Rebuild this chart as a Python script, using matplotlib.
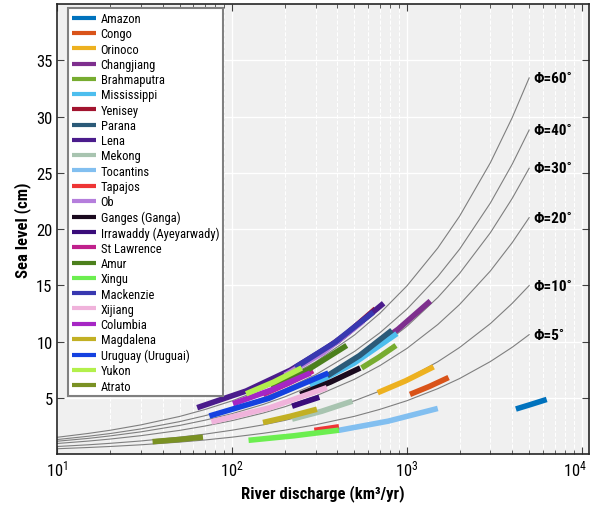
import matplotlib
matplotlib.use("Agg")
import matplotlib.pyplot as plt
from matplotlib import font_manager
from matplotlib.transforms import ScaledTranslation

# === FONT: pick a narrow sans if one is installed ===
installed = {f.name for f in font_manager.fontManager.ttflist}
narrow = "DejaVu Sans"
for cand in ["Liberation Sans Narrow", "Roboto Condensed", "Open Sans Condensed"]:
    if cand in installed:
        narrow = cand
        break
plt.rcParams["font.family"] = [narrow, "DejaVu Sans"]
plt.rcParams["mathtext.fontset"] = "custom"
plt.rcParams["mathtext.rm"] = narrow
plt.rcParams["mathtext.it"] = narrow
plt.rcParams["mathtext.bf"] = narrow

# === DATA: latitude curves ===
q_grid = [10, 15, 20, 30, 50, 70, 100, 150, 200, 300, 500, 700,
          1000, 1500, 2000, 3000, 4000, 5000]
phi_labels = ["Φ=5˚", "Φ=10˚", "Φ=20˚", "Φ=30˚", "Φ=40˚", "Φ=60˚"]
eta_phi5 = [0.47, 0.58, 0.67, 0.82, 1.06, 1.25, 1.50, 1.84, 2.12, 2.60, 3.35, 3.97,
            4.74, 5.81, 6.71, 8.22, 9.49, 10.61]
eta_phi10 = [0.67, 0.82, 0.95, 1.16, 1.50, 1.77, 2.12, 2.59, 2.99, 3.67, 4.73, 5.60,
             6.69, 8.20, 9.47, 11.59, 13.39, 14.97]
eta_phi20 = [0.94, 1.15, 1.33, 1.63, 2.10, 2.49, 2.97, 3.64, 4.20, 5.15, 6.64, 7.86,
             9.39, 11.51, 13.29, 16.27, 18.79, 21.01]
eta_phi30 = [1.14, 1.39, 1.61, 1.97, 2.54, 3.01, 3.59, 4.40, 5.08, 6.22, 8.03, 9.50,
             11.36, 13.91, 16.06, 19.67, 22.72, 25.40]
eta_phi40 = [1.29, 1.58, 1.82, 2.23, 2.88, 3.41, 4.07, 4.99, 5.76, 7.05, 9.11, 10.78,
             12.88, 15.77, 18.21, 22.31, 25.76, 28.80]
eta_phi60 = [1.49, 1.83, 2.11, 2.59, 3.34, 3.96, 4.73, 5.79, 6.69, 8.19, 10.57, 12.51,
             14.95, 18.31, 21.14, 25.89, 29.90, 33.43]
phi_curves = [eta_phi5, eta_phi10, eta_phi20, eta_phi30, eta_phi40, eta_phi60]

# === DATA: rivers (discharge km3/yr, sea level cm) ===
rivers = ["Amazon", "Congo", "Orinoco", "Changjiang", "Brahmaputra", "Mississippi",
          "Yenisey", "Parana", "Lena", "Mekong", "Tocantins", "Tapajos", "Ob",
          "Ganges (Ganga)", "Irrawaddy (Ayeyarwady)", "St Lawrence", "Amur", "Xingu",
          "Mackenzie", "Xijiang", "Columbia", "Magdalena", "Uruguay (Uruguai)",
          "Yukon", "Atrato"]
river_q = [
    [4200, 5100, 6300], [1040, 1340, 1730], [680, 980, 1420], [580, 890, 1360],
    [550, 690, 865], [280, 495, 875], [300, 445, 660], [350, 535, 820],
    [63, 120, 215, 400, 735], [220, 325, 487], [405, 780, 1500], [295, 345, 408],
    [200, 330, 560], [245, 365, 540], [220, 263, 315], [150, 210, 290],
    [168, 275, 452], [124, 225, 408], [230, 385, 640], [76, 163, 348],
    [101, 168, 280], [150, 214, 305], [74, 162, 355], [120, 173, 250], [35, 49, 68],
]
river_eta = [
    [4.0, 4.4, 4.85], [5.3, 6.0, 6.8], [5.45, 6.5, 7.75], [9.0, 11.1, 13.6],
    [7.65, 8.6, 9.65], [6.05, 8.05, 10.7], [8.7, 10.6, 12.9], [6.95, 8.75, 11.0],
    [4.12, 5.6, 7.45, 10.0, 13.4], [3.1, 3.8, 4.7], [2.1, 2.92, 4.05], [2.1, 2.25, 2.42],
    [7.0, 9.0, 11.8], [5.3, 6.4, 7.65], [4.25, 4.65, 5.05], [5.3, 6.3, 7.4],
    [5.9, 7.55, 9.65], [1.22, 1.62, 2.12], [7.7, 9.9, 12.6], [2.85, 4.1, 5.9],
    [4.47, 5.7, 7.2], [2.8, 3.35, 3.98], [3.38, 4.95, 7.2], [5.35, 6.4, 7.65], [1.1, 1.28, 1.5],
]
colors = ["#0072BD", "#D95319", "#EDB120", "#7E2F8E", "#77AC30", "#4DBEEE",
          "#A2142F", "#2B5A78", "#4B1C8C", "#A8C4B0", "#82BFF0", "#EE3535", "#B57EDC",
          "#1A0A1E", "#3A0C7A", "#C0218C", "#4C801C", "#6CEE50", "#3838B0", "#F0B3DB",
          "#A626C4", "#C2B024", "#1441E0", "#B3F04C", "#7A9123"]

# === PLOT ===
fig = plt.figure(figsize=(5.92, 5.10), dpi=100)
ax = fig.add_axes([0.0971, 0.1078, 0.8978, 0.8824])
ax.set_facecolor("#f0f0f0")

for eta, lab in zip(phi_curves, phi_labels):
    ax.plot(q_grid, eta, color="#7f7f7f", lw=0.8, zorder=2)
    ax.text(5300, eta[-1], lab, fontsize=11, fontweight="bold", ha="left", va="center")

for name, q, eta, c in zip(rivers, river_q, river_eta, colors):
    ax.plot(q, eta, color=c, lw=4, solid_capstyle="butt", label=name, zorder=3)

ax.set_xscale("log")
ax.set_xlim(10, 1.1e4)
ax.set_ylim(0, 40)
ax.set_yticks([5, 10, 15, 20, 25, 30, 35])

ax.grid(which="major", color="white", lw=1.0, zorder=0)
ax.grid(which="minor", axis="x", color="white", lw=0.8, ls="--", zorder=0)
ax.set_axisbelow(True)
ax.tick_params(which="both", direction="in", top=True, right=True, labelsize=12,
               color="#404040")
ax.tick_params(which="major", length=5)
ax.tick_params(which="minor", length=3)
for s in ax.spines.values():
    s.set_color("#262626")
    s.set_linewidth(1.2)

ax.set_xlabel("River discharge (km³/yr)", fontsize=12, fontweight="bold")
ax.set_ylabel("Sea level (cm)", fontsize=12, fontweight="bold")

leg = ax.legend(loc="upper left", bbox_to_anchor=(0.02, 0.99), borderaxespad=0,
                fontsize=9, labelspacing=0.18, handlelength=1.9, handletextpad=0.4,
                borderpad=0.3, fancybox=False, framealpha=1, edgecolor="#808080")
leg.get_frame().set_linewidth(1.5)
for ln in leg.get_lines():
    ln.set_linewidth(3)

# nudge the 10^4 label so it stays inside the figure
fig.canvas.draw()
last = [t for t in ax.get_xticklabels() if t.get_position()[0] > 5000]
for t in last:
    t.set_transform(t.get_transform() + ScaledTranslation(-5 / 72, 0, fig.dpi_scale_trans))

fig.savefig("out.png", dpi=100)
